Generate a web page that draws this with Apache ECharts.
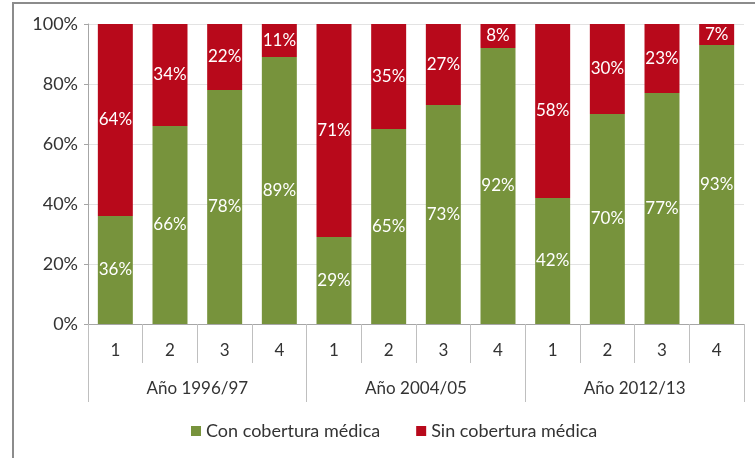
<!DOCTYPE html>
<html>
<head>
<meta charset="utf-8">
<script src="https://cdn.jsdelivr.net/npm/echarts@6/dist/echarts.min.js"></script>
<style>
  html, body { margin: 0; padding: 0; background: #fff; }
  #chart { width: 755px; height: 458px; }
</style>
</head>
<body>
<div id="chart"></div>
<script>
// data
const quartiles = ['1', '2', '3', '4', '1', '2', '3', '4', '1', '2', '3', '4'];
const years = ['Año 1996/97', 'Año 2004/05', 'Año 2012/13'];
const conCobertura = [36, 66, 78, 89, 29, 65, 73, 92, 42, 70, 77, 93];
const sinCobertura = [64, 34, 22, 11, 71, 35, 27, 8, 58, 30, 23, 7];
const yTicks = [0, 20, 40, 60, 80, 100];

const font = 'Lato, "Open Sans", sans-serif';
const txt = '#333333';

const chart = echarts.init(document.getElementById('chart'));

const barLabel = {
  show: true,
  position: 'inside',
  formatter: '{c}%',
  color: '#fff',
  fontSize: 17,
  fontFamily: font
};

chart.setOption({
  animation: false,
  textStyle: { fontFamily: font },
  graphic: [{
    type: 'rect',
    shape: { x: 13, y: 3, width: 800, height: 500 },
    style: { fill: 'none', stroke: '#8c8c8c', lineWidth: 2 },
    silent: true
  }],
  grid: { left: 88, right: 11, top: 24, bottom: 134 },
  legend: {
    bottom: 13,
    left: 186,
    itemWidth: 10,
    itemHeight: 10,
    itemGap: 36,
    icon: 'rect',
    textStyle: { color: txt, fontSize: 18, fontFamily: font },
    data: ['Con cobertura médica', 'Sin cobertura médica']
  },
  xAxis: [
    {
      type: 'category',
      data: quartiles,
      position: 'bottom',
      axisLine: { lineStyle: { color: '#a6a6a6' } },
      axisTick: { show: true, length: 39, lineStyle: { color: '#bfbfbf' } },
      axisLabel: { color: txt, fontSize: 17, margin: 18, fontFamily: font }
    },
    {
      type: 'category',
      data: years,
      position: 'bottom',
      axisLine: { show: false },
      axisTick: { show: true, length: 78, lineStyle: { color: '#bfbfbf' } },
      axisLabel: { color: txt, fontSize: 17, margin: 56, fontFamily: font }
    }
  ],
  yAxis: {
    type: 'value',
    min: yTicks[0],
    max: yTicks[yTicks.length - 1],
    interval: 20,
    axisLine: { show: true, lineStyle: { color: '#a6a6a6' } },
    axisTick: { show: true, length: 4, lineStyle: { color: '#a6a6a6' } },
    axisLabel: { color: txt, fontSize: 18, margin: 10, formatter: '{value}%', fontFamily: font },
    splitLine: { lineStyle: { color: '#e3e3e3' } }
  },
  series: [
    {
      name: 'Con cobertura médica',
      type: 'bar',
      stack: 'total',
      xAxisIndex: 0,
      barCategoryGap: '36%',
      itemStyle: { color: '#77933c' },
      label: barLabel,
      data: conCobertura
    },
    {
      name: 'Sin cobertura médica',
      type: 'bar',
      stack: 'total',
      xAxisIndex: 0,
      barCategoryGap: '36%',
      itemStyle: { color: '#b8091b' },
      label: barLabel,
      data: sinCobertura
    }
  ]
});
</script>
</body>
</html>
